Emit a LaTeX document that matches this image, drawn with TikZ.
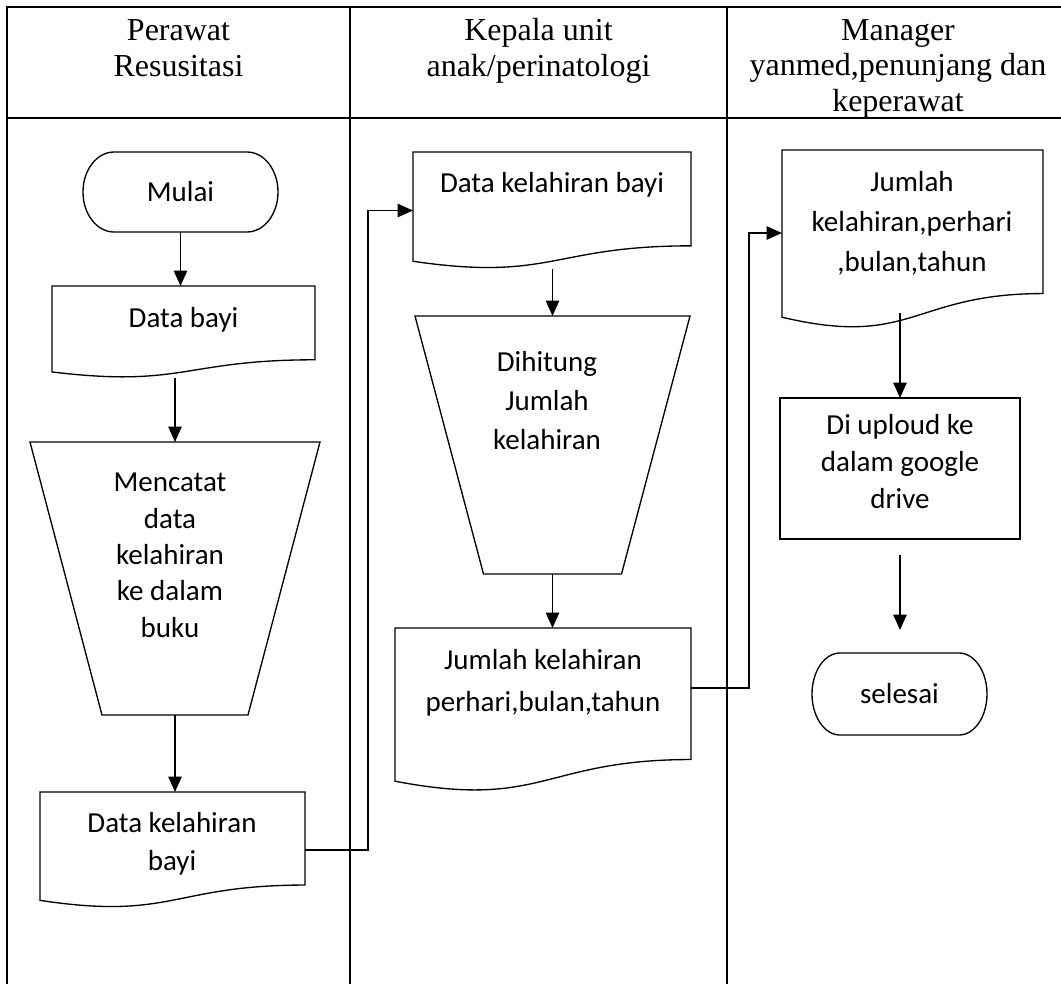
\documentclass[tikz,border=0pt]{standalone}
\usepackage{fontspec}
\setmainfont{Carlito}
\newfontfamily\hdrfont{Liberation Serif}
\usetikzlibrary{arrows.meta,calc}
\def\pxu{0.75pt}

% rounded terminator outline with elliptical ends
\newcommand{\termoutline}[3]{%
  \draw[outline] ([xshift=#2*\pxu]#1.north west) -- ([xshift=-#2*\pxu]#1.north east)
    arc[start angle=90,end angle=-90,x radius=#2*\pxu,y radius=#3*\pxu]
    -- ([xshift=#2*\pxu]#1.south west)
    arc[start angle=270,end angle=90,x radius=#2*\pxu,y radius=#3*\pxu] -- cycle;}
% document symbol with a wavy lower edge
\newcommand{\docoutline}[1]{%
  \draw[outline] (#1.north west) -- (#1.north east)
    -- ($(#1.north east)!0.802!(#1.south east)$)
    .. controls ($(#1.north)!0.802!(#1.south)$) and ($(#1.north)!1.1075!(#1.south)$)
    .. ($(#1.north west)!0.934!(#1.south west)$) -- cycle;}
% manual operation (trapezium, narrow side down)
\newcommand{\trapoutline}[2]{%
  \draw[outline] (#1.north west) -- (#1.north east)
    -- ([xshift=-#2*\pxu]#1.south east) -- ([xshift=#2*\pxu]#1.south west) -- cycle;}

\begin{document}
\begin{tikzpicture}[x=0.75pt,y=-0.75pt,
  lane/.style={line width=1.9pt},
  outline/.style={line width=1pt},
  conn/.style={line width=1.1pt},
  arr/.style={conn,-{Triangle[length=11.5pt,width=10pt]}},
  hdr/.style={font=\hdrfont\fontsize{24}{26.6}\selectfont, align=center, anchor=base, inner sep=0pt},
  lbl/.style={font=\fontsize{21.75}{#1}\selectfont, align=center, anchor=base, inner sep=0pt},
  lbl/.default=27.2,
  shapebox/.style={rectangle, draw=none, inner sep=0pt, outer sep=0pt},
]
\useasboundingbox (0,0) rectangle (1061,983);

% swimlane table
\draw[lane] (7,995) -- (7,7) -- (1075,7);
\draw[lane] (7,118) -- (1075,118);
\draw[lane] (350,7) -- (350,995);
\draw[lane] (727,7) -- (727,995);

% multi-line labels sit on the baseline of their last line
\node[hdr] (h1) at (178.5,76) {Perawat\\Resusitasi};
\node[hdr] (h2) at (538.5,76) {Kepala unit\\anak/perinatologi};
\node[hdr] (h3) at (898,111) {Manager\\yanmed,penunjang dan\\keperawat};

% lane 1
\node[shapebox, minimum width=195*\pxu, minimum height=80*\pxu, font=\fontsize{21.75}{27}\selectfont] (start) at (180.5,192) {Mulai};
\termoutline{start}{31}{40}

\node[shapebox, minimum width=263*\pxu, minimum height=92*\pxu] (d1) at (183.5,332) {};
\docoutline{d1}
\node[lbl] (d1t) at (183.5,327) {Data bayi};

\node[shapebox, minimum width=290*\pxu, minimum height=273*\pxu] (t1) at (175,578.5) {};
\trapoutline{t1}{72}
\node[lbl=27.2] (t1t) at (170,637) {Mencatat\\data\\kelahiran\\ke dalam\\buku};

\node[shapebox, minimum width=265*\pxu, minimum height=116*\pxu] (d4) at (172.5,850) {};
\docoutline{d4}
\node[lbl=28.5] (d4t) at (172,870) {Data kelahiran\\bayi};

% lane 2
\node[shapebox, minimum width=278*\pxu, minimum height=117*\pxu] (d2) at (552,210.5) {};
\docoutline{d2}
\node[lbl] (d2t) at (552,192) {Data kelahiran bayi};

\node[shapebox, minimum width=275*\pxu, minimum height=258*\pxu] (t2) at (552.5,445) {};
\trapoutline{t2}{68.5}
\node[lbl=28.9] (t2t) at (547,449) {Dihitung\\Jumlah\\kelahiran};

\node[shapebox, minimum width=296*\pxu, minimum height=164*\pxu] (d5) at (543,710) {};
\docoutline{d5}
\node[lbl=31.5] (d5t) at (543,711) {Jumlah kelahiran\\perhari,bulan,tahun};

% lane 3
\node[shapebox, minimum width=261*\pxu, minimum height=179*\pxu] (d3) at (912.5,239.5) {};
\docoutline{d3}
\node[lbl=30] (d3t) at (912,271) {Jumlah\\kelahiran,perhari\\,bulan,tahun};

\node[shapebox, draw, outline, minimum width=240*\pxu, minimum height=141*\pxu] (p1) at (900,468.5) {};
\node[lbl=27.75] (p1t) at (900,508) {Di uploud ke\\dalam google\\drive};

\node[shapebox, minimum width=175*\pxu, minimum height=82*\pxu, font=\fontsize{21.75}{27}\selectfont] (finish) at (899.5,694) {selesai};
\termoutline{finish}{28}{41}

% flow
\draw[arr] (start.south) -- (start.south |- d1.north);
\draw[arr] (d1.south -| t1.north) -- (t1.north);
\draw[arr] (t1.south) -- (t1.south |- d4.north);
\draw[arr] (d4.east) -- ++(63,0) |- (d2.west);
\draw[arr] (d2.south -| t2.north) -- (t2.north);
\draw[arr] (t2.south) -- (t2.south |- d5.north);
\draw[arr] ($(d5.east)+(0,-22)$) -- ++(58,0) |- ($(d3.west)+(0,-6.5)$);
\draw[arr] ($(d3.south -| p1.north)+(0,-16)$) -- (p1.north);
\draw[arr] ($(p1.south)+(0,16)$) -- ($(p1.south |- finish.north)+(0,-23)$);
\end{tikzpicture}
\end{document}
